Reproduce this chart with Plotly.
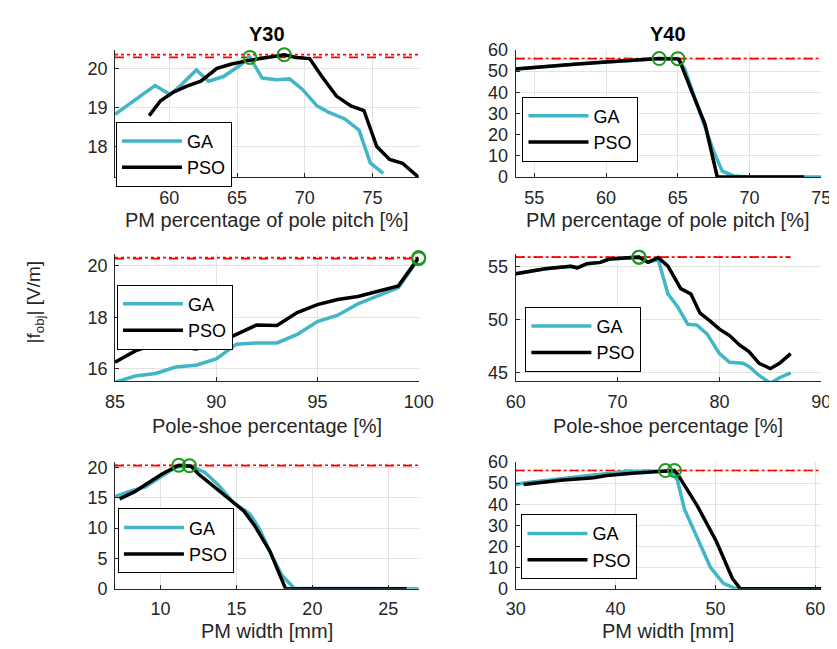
import plotly.graph_objects as go

# ---------------- data ----------------
# Y30 - PM percentage of pole pitch
y30_pitch_ga_x = [56.0, 58.95, 60.07, 60.9, 62.0, 62.9, 64.0, 65.07, 65.95, 66.86, 67.93, 68.88, 69.83, 70.9, 71.74, 72.93, 74.0, 74.83, 75.79]
y30_pitch_ga_y = [18.82, 19.56, 19.33, 19.58, 19.96, 19.67, 19.79, 20.04, 20.28, 19.75, 19.71, 19.73, 19.46, 19.04, 18.88, 18.71, 18.42, 17.58, 17.31]
y30_pitch_pso_x = [58.52, 59.36, 60.3, 61.26, 62.33, 63.52, 64.6, 66.0, 67.45, 68.48, 69.36, 70.36, 71.26, 72.33, 73.4, 74.36, 75.31, 76.26, 77.21, 78.4]
y30_pitch_pso_y = [18.79, 19.17, 19.39, 19.54, 19.67, 20.0, 20.11, 20.21, 20.29, 20.35, 20.28, 20.25, 19.79, 19.29, 19.04, 18.92, 18.0, 17.67, 17.57, 17.21]

# Y40 - PM percentage of pole pitch
y40_pitch_ga_x = [53.7, 56.0, 58.0, 60.0, 62.0, 63.7, 65.0, 65.5, 66.2, 66.9, 67.5, 68.1, 68.9, 70.0, 73.8, 75.0]
y40_pitch_ga_y = [51.0, 52.4, 53.4, 54.3, 55.2, 55.8, 55.9, 50.8, 37.0, 23.4, 12.0, 2.7, 0.5, 0.0, 0.0, 0.0]
y40_pitch_pso_x = [53.7, 56.0, 58.0, 60.0, 62.0, 63.7, 65.0, 65.1, 66.0, 66.9, 67.75, 70.0, 73.8]
y40_pitch_pso_y = [51.0, 52.4, 53.4, 54.3, 55.2, 55.95, 55.8, 55.4, 40.0, 24.9, 0.0, 0.0, 0.0]

# Y30 - Pole-shoe percentage
y30_shoe_x = [85, 86, 87, 88, 89, 90, 91, 92, 93, 94, 95, 96, 97, 98, 99, 100]
y30_shoe_ga_y = [15.47, 15.71, 15.81, 16.06, 16.13, 16.38, 16.95, 17.0, 17.0, 17.33, 17.83, 18.08, 18.52, 18.84, 19.15, 20.28]
y30_shoe_pso_y = [16.25, 16.69, 16.95, 16.88, 16.76, 16.95, 17.33, 17.7, 17.68, 18.18, 18.49, 18.69, 18.81, 19.03, 19.22, 20.32]

# Y40 - Pole-shoe percentage
y40_shoe_ga_x = [60, 62.9, 65.4, 66.05, 67, 68.3, 69.2, 72.1, 73.0, 74.0, 74.95, 75.9, 76.9, 77.8, 78.8, 80.0, 81.0, 82.3, 82.9, 83.9, 85.0, 85.9, 87.0]
y40_shoe_ga_y = [54.3, 54.76, 55.0, 54.85, 55.24, 55.36, 55.67, 55.85, 55.4, 55.6, 52.4, 51.2, 49.55, 49.48, 48.64, 46.8, 46.0, 45.9, 45.6, 44.76, 44.03, 44.55, 45.0]
y40_shoe_pso_x = [60, 62.9, 65.4, 66.05, 67, 68.3, 69.2, 72.1, 73.0, 74.0, 74.95, 76.2, 77.2, 78.1, 79.1, 80.0, 81.0, 82.0, 82.9, 83.9, 85.0, 85.9, 87.0]
y40_shoe_pso_y = [54.3, 54.76, 55.0, 54.85, 55.24, 55.36, 55.67, 55.85, 55.36, 55.8, 55.0, 52.9, 52.4, 50.6, 49.85, 49.1, 48.5, 47.6, 47.0, 45.9, 45.4, 45.9, 46.8]

# Y30 - PM width
y30_width_ga_x = [7.0, 7.9, 9.0, 10.0, 11.0, 11.9, 12.9, 13.8, 14.8, 15.9, 16.5, 17.4, 18.0, 18.8, 27.0]
y30_width_ga_y = [15.2, 16.0, 16.8, 18.4, 20.0, 20.28, 19.2, 17.1, 14.2, 12.3, 9.9, 5.1, 2.2, 0.1, 0.0]
y30_width_pso_x = [7.3, 8.3, 9.1, 10.1, 11.2, 12.0, 12.5, 13.4, 14.4, 15.5, 16.2, 17.2, 18.24, 26.2]
y30_width_pso_y = [14.8, 16.0, 17.3, 18.9, 20.35, 20.2, 18.9, 17.1, 15.0, 12.8, 10.4, 6.2, 0.0, 0.0]

# Y40 - PM width
y40_width_ga_x = [30.0, 31.0, 34.5, 37.8, 41.0, 42.6, 45.0, 45.6, 46.2, 46.9, 48.2, 49.5, 50.8, 52.1, 60.6]
y40_width_ga_y = [49.3, 50.1, 52.0, 53.6, 55.4, 55.6, 55.9, 55.7, 51.3, 37.6, 23.9, 10.2, 2.6, 0.0, 0.0]
y40_width_pso_x = [30.8, 34.5, 37.8, 39.1, 41.7, 44.9, 45.9, 46.2, 48.2, 50.1, 51.7, 52.5, 60.6]
y40_width_pso_y = [49.3, 51.3, 52.5, 53.6, 54.6, 55.6, 55.95, 54.3, 39.1, 22.4, 4.9, 0.0, 0.0]

titles = ["Y30", "Y40"]
x_labels = ["PM percentage of pole pitch [%]", "Pole-shoe percentage [%]", "PM width [mm]"]
y_label = "|f<sub>obj</sub>| [V/m]"

# ---------------- styling ----------------
W, H = 837, 649
FONT = "Liberation Sans, Arial, Helvetica, sans-serif"
GA_COLOR = "#41B6C6"
PSO_COLOR = "#000000"
TXT = "#262626"

# panel pixel boxes: (left, right, top, bottom)
boxes = [
    (100, 413, 33, 164), (513, 828, 33, 164),
    (100, 413, 243, 375), (513, 828, 244, 375),
    (100, 413, 458, 589), (513, 828, 458, 589),
]
xranges = [[56, 78.4], [53.7, 75], [85, 100], [60, 90], [7, 27], [30, 60.6]]
yranges = [[17.22, 20.47], [0, 60], [15.5, 20.48], [44.2, 56.1], [0, 20.9], [0, 60]]
xticks = [[60, 65, 70, 75], [55, 60, 65, 70, 75], [85, 90, 95, 100], [60, 70, 80, 90],
          [10, 15, 20, 25], [30, 40, 50, 60]]
yticks = [[18, 19, 20], [0, 10, 20, 30, 40, 50, 60], [16, 18, 20], [45, 50, 55],
          [0, 5, 10, 15, 20], [0, 10, 20, 30, 40, 50, 60]]
legend_pos = [(101, 107), (520, 81), (102, 275), (523, 298), (103, 506), (519, 512)]
xtitle_y = [208, 208, 421, 421, 633, 633]

series = [
    (y30_pitch_ga_x, y30_pitch_ga_y, y30_pitch_pso_x, y30_pitch_pso_y),
    (y40_pitch_ga_x, y40_pitch_ga_y, y40_pitch_pso_x, y40_pitch_pso_y),
    (y30_shoe_x, y30_shoe_ga_y, y30_shoe_x, y30_shoe_pso_y),
    (y40_shoe_ga_x, y40_shoe_ga_y, y40_shoe_pso_x, y40_shoe_pso_y),
    (y30_width_ga_x, y30_width_ga_y, y30_width_pso_x, y30_width_pso_y),
    (y40_width_ga_x, y40_width_ga_y, y40_width_pso_x, y40_width_pso_y),
]

fig = go.Figure()
layout = dict(
    width=W, height=H, margin=dict(l=0, r=0, t=0, b=0),
    paper_bgcolor="white", plot_bgcolor="white",
    font=dict(family=FONT, size=18, color=TXT),
    showlegend=True, annotations=[],
)

for i, (gx, gy, px, py) in enumerate(series):
    n = "" if i == 0 else str(i + 1)
    xa, ya = "x" + n, "y" + n
    lg = "legend" + n
    L, R, T, B = boxes[i]
    xmin = min(min(gx), min(px))
    xmax = max(max(gx), max(px))
    gmax = max(gy)
    pmax = max(py)
    # reference lines at the maxima
    fig.add_trace(go.Scatter(x=[xmin, xmax], y=[gmax, gmax], mode="lines", xaxis=xa, yaxis=ya,
                             line=dict(color="#FF0000", width=1.6, dash="dash"),
                             showlegend=False, hoverinfo="skip"))
    fig.add_trace(go.Scatter(x=[xmin, xmax], y=[pmax, pmax], mode="lines", xaxis=xa, yaxis=ya,
                             line=dict(color="#FF0000", width=1.6, dash="dot"),
                             showlegend=False, hoverinfo="skip"))
    fig.add_trace(go.Scatter(x=gx, y=gy, mode="lines", name="GA", xaxis=xa, yaxis=ya,
                             line=dict(color=GA_COLOR, width=3.5), legend=lg))
    fig.add_trace(go.Scatter(x=px, y=py, mode="lines", name="PSO", xaxis=xa, yaxis=ya,
                             line=dict(color=PSO_COLOR, width=3.5), legend=lg))
    gi = gy.index(gmax)
    pi = py.index(pmax)
    fig.add_trace(go.Scatter(x=[gx[gi], px[pi]], y=[gmax, pmax], mode="markers", xaxis=xa, yaxis=ya,
                             marker=dict(symbol="circle-open", size=13, color="#1E9A1E",
                                         line=dict(width=2, color="#1E9A1E")),
                             showlegend=False, hoverinfo="skip", cliponaxis=False))

    axis_common = dict(showline=True, linecolor="#262626", linewidth=1, mirror=False,
                       showgrid=True, gridcolor="#E3E3E3", gridwidth=1, zeroline=False,
                       ticks="inside", ticklen=4, tickcolor="#262626",
                       tickfont=dict(family=FONT, size=18, color=TXT))
    layout["xaxis" + n] = dict(axis_common, domain=[L / W, R / W], range=xranges[i],
                               tickvals=xticks[i], anchor=ya, ticklabelstandoff=4)
    layout["yaxis" + n] = dict(axis_common, domain=[1 - B / H, 1 - T / H], range=yranges[i],
                               tickvals=yticks[i], anchor=xa, ticklabelstandoff=3)
    lx, ly = legend_pos[i]
    layout[lg] = dict(x=lx / W, y=1 - ly / H, xanchor="left", yanchor="top",
                      bgcolor="white", bordercolor="#000000", borderwidth=1,
                      font=dict(family=FONT, size=18, color="#000000"),
                      itemwidth=60, tracegroupgap=0)
    layout["annotations"].append(dict(
        text=x_labels[i // 2], x=(L + R) / 2 / W, y=1 - xtitle_y[i] / H,
        xref="paper", yref="paper", xanchor="center", yanchor="middle", showarrow=False,
        font=dict(family=FONT, size=20, color=TXT)))
    if i < 2:
        layout["annotations"].append(dict(
            text="<b>" + titles[i] + "</b>", x=(L + R) / 2 / W, y=1 - 17 / H,
            xref="paper", yref="paper", xanchor="center", yanchor="middle", showarrow=False,
            font=dict(family=FONT, size=20, color="#000000")))

layout["annotations"].append(dict(
    text=y_label, x=17 / W, y=1 - 293 / H, xref="paper", yref="paper",
    xanchor="center", yanchor="middle", textangle=-90, showarrow=False,
    font=dict(family=FONT, size=19, color=TXT)))

fig.update_layout(**layout)
fig.write_html("out.html")
